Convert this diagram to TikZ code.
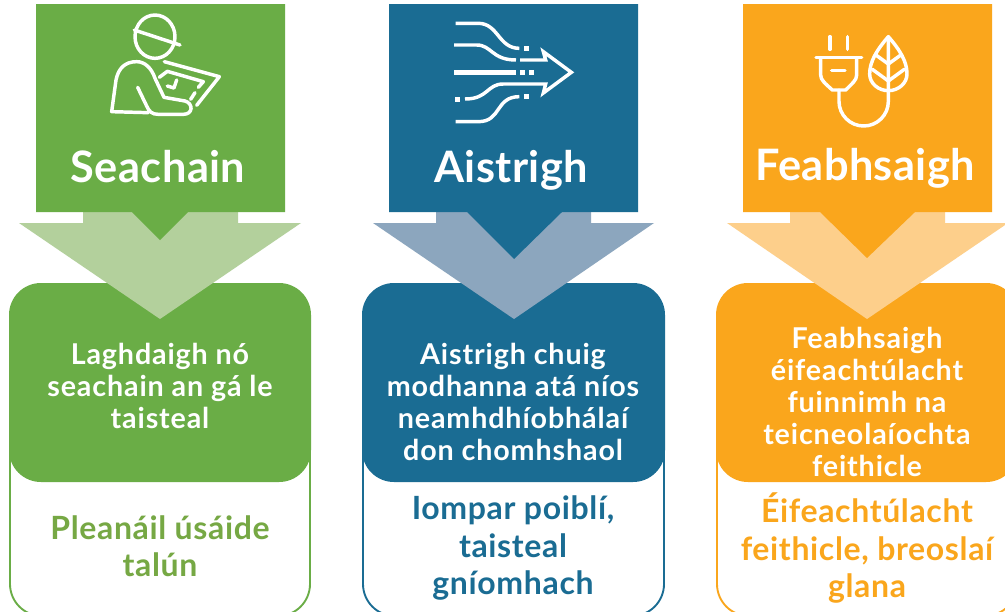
\documentclass[tikz,border=0pt]{standalone}
\usepackage{fontspec}
\setmainfont{Lato}
\newfontfamily\heada[LetterSpace=1]{Lato}
\newfontfamily\bodya[LetterSpace=3]{Lato}
\newfontfamily\suba[LetterSpace=2]{Lato}
\definecolor{cg}{HTML}{6AAD46}
\definecolor{cgl}{HTML}{B3D09C}
\definecolor{cgt}{HTML}{76A844}
\definecolor{cb}{HTML}{1A6C93}
\definecolor{cbl}{HTML}{8CA6BE}
\definecolor{co}{HTML}{FAA61C}
\definecolor{col}{HTML}{FDCF8B}
\tikzset{
  headtxt/.style={text=white,font=\heada\fontsize{32.5pt}{36pt}\selectfont\bfseries,inner sep=0pt},
  bodytxt/.style={text=white,font=\bodya\fontsize{21.5pt}{24pt}\selectfont\bfseries,align=center,inner sep=0pt},
  subtxt/.style={font=\suba\fontsize{24pt}{28pt}\selectfont\bfseries,align=center,inner sep=0pt},
  ico/.style={draw=white,line width=2.6pt,line cap=round,line join=round},
  dot/.style={fill=white,draw=none},
  outl/.style={line width=1.4pt,fill=white,rounded corners=24pt},
  fillbox/.style={rounded corners=24pt},
}
\begin{document}
\begin{tikzpicture}[x=0.75pt,y=-0.75pt]
\useasboundingbox (0,0) rectangle (1005,611);
\clip (0,0) rectangle (1005,611);
\fill[white] (0,0) rectangle (1005,611);
% column 1
\draw[outl,draw=cg] (10,380) rectangle (310,616);
\fill[fillbox,cg] (9,283) rectangle (311,482);
\fill[cgl] (83,205) -- (238,205) -- (238,223) -- (301,223) -- (160,319) -- (19,223) -- (83,223) -- cycle;
\fill[cg] (36,4) -- (285,4) -- (285,212) -- (188,212) -- (160,240) -- (132,212) -- (36,212) -- cycle;
% column 2
\draw[outl,draw=cb] (363,380) rectangle (664,616);
\fill[fillbox,cb] (362,283) rectangle (665,482);
\fill[cbl] (436,205) -- (591,205) -- (591,223) -- (654,223) -- (514,319) -- (373,223) -- (436,223) -- cycle;
\fill[cb] (389,4) -- (638,4) -- (638,212) -- (562,212) -- (514,259) -- (467,212) -- (389,212) -- cycle;
% column 3
\draw[outl,draw=co] (717,380) rectangle (1017,616);
\fill[fillbox,co] (716,283) rectangle (1018,482);
\fill[col] (790,205) -- (945,205) -- (945,223) -- (1008,223) -- (867,319) -- (727,223) -- (790,223) -- cycle;
\fill[co] (743,4) -- (992,4) -- (992,212) -- (915,212) -- (867,258) -- (820,212) -- (743,212) -- cycle;
% worker icon
\begin{scope}[shift={(30,0)}]
\begin{scope}[x=0.25pt,y=-0.25pt]
\draw[ico] (375,110) ellipse [x radius=60,y radius=65];
\draw[ico] (313,90) -- (450,135);
\draw[ico] (355,338) -- (245,335) -- (258,240) .. controls (265,205) and (285,185) .. (320,185) .. controls (345,185) and (365,205) .. (375,235) -- (402,292) -- (465,303) .. controls (490,310) and (490,343) .. (460,343) -- (385,343) .. controls (365,343) and (358,335) .. (350,318) -- (323,262);
\draw[ico] (403,185) -- (568,230) -- (500,316);
\draw[ico] (388,232) -- (412,214) -- (520,245) -- (505,262);
\draw[ico] (495,278) -- (482,298);
\draw[ico] (440,240) -- (432,264) -- (412,258);
\end{scope}
\end{scope}
% flow icon
\begin{scope}[shift={(380,0)}]
\begin{scope}[x=0.25pt,y=-0.25pt]
\draw[ico,line cap=butt] (227,70) -- (295,70) .. controls (355,70) and (355,145) .. (418,145);
\draw[ico,line cap=butt] (222,135) -- (290,135) .. controls (335,135) and (335,180) .. (408,180);
\draw[ico,line cap=butt,line join=miter] (420,180) -- (497,180) -- (490,155) -- (574,217) -- (490,279) -- (497,252) -- (370,252) .. controls (320,252) and (325,297) .. (255,297);
\draw[ico,line cap=butt] (227,365) -- (295,365) .. controls (365,365) and (345,290) .. (418,290);
\fill[white] (222,209) rectangle (408,225);
\fill[dot] (432,138) rectangle (446,152);
\fill[dot] (420,210) rectangle (434,224);
\fill[dot] (447,210) rectangle (461,224);
\fill[dot] (225,290) rectangle (240,305);
\fill[dot] (432,282) rectangle (446,296);
\end{scope}
\end{scope}
% plug and leaf icon
\begin{scope}[shift={(725,0)}]
\begin{scope}[x=0.25pt,y=-0.25pt]
\draw[ico] (315,110) -- (315,148);
\draw[ico] (367,110) -- (367,148);
\draw[ico] (273,173) -- (410,173);
\draw[ico] (287,173) -- (287,225) .. controls (287,240) and (300,250) .. (322,270) -- (362,270) .. controls (382,250) and (395,240) .. (395,225) -- (395,173);
\draw[ico] (320,212) -- (360,212);
\draw[ico] (342,270) -- (342,304) arc[start angle=180,end angle=360,x radius=74,y radius=-74] -- (490,112);
\draw[ico] (490,110) .. controls (455,150) and (434,185) .. (434,222) .. controls (434,250) and (460,272) .. (490,272) .. controls (520,272) and (546,250) .. (546,222) .. controls (546,185) and (525,150) .. (490,110) -- cycle;
\draw[ico] (454,166) -- (490,192) -- (526,166);
\draw[ico] (442,208) -- (490,243) -- (538,208);
\end{scope}
\end{scope}
% headings
\node[headtxt,anchor=base] (h1) at (158,182) {Seachain};
\node[headtxt,anchor=base] (h2) at (511,182) {Aistrigh};
\node[headtxt,anchor=base] (h3) at (865,180) {Feabhsaigh};
% body text
\node[bodytxt] (b1) at (160,386) {Laghdaigh nó\\seachain an gá le\\taisteal};
\node[bodytxt] (b2) at (513,402) {Aistrigh chuig\\modhanna atá níos\\neamhdhíobhálaí\\don chomhshaol};
\node[bodytxt] (b3) at (867,402) {Feabhsaigh\\éifeachtúlacht\\fuinnimh na\\teicneolaíochta\\feithicle};
% sub text
\node[subtxt,text=cgt] (s1) at (160,546) {Pleanáil úsáide\\talún};
\node[subtxt,text=cb] (s2) at (513,548) {Iompar poiblí,\\taisteal\\gníomhach};
\node[subtxt,text=co] (s3) at (867,548) {Éifeachtúlacht\\feithicle, breoslaí\\glana};
\end{tikzpicture}
\end{document}
